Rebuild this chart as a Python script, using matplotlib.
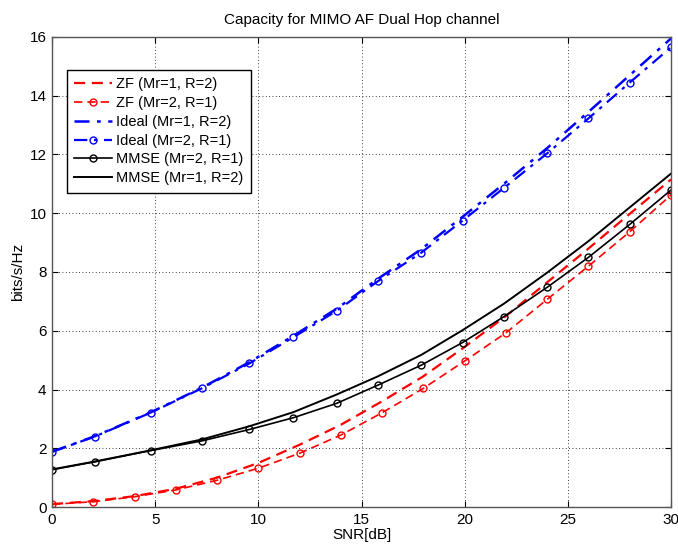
import matplotlib
matplotlib.use('Agg')
import matplotlib.pyplot as plt

plt.rcParams.update({
    'font.family': ['Liberation Sans', 'DejaVu Sans'],
    'font.size': 10.5,
    'figure.facecolor': 'white',
})

snr_zf = [0, 2, 4, 6, 8, 10, 12, 14, 16, 18, 20, 22, 24, 26, 28, 30]
zf_12 = [0.10, 0.20, 0.37, 0.62, 1.00, 1.50, 2.12, 2.80, 3.60, 4.45, 5.45, 6.50, 7.65, 8.80, 9.98, 11.15]
zf_21 = [0.09, 0.18, 0.35, 0.58, 0.91, 1.32, 1.83, 2.45, 3.21, 4.04, 4.97, 5.93, 7.07, 8.20, 9.37, 10.62]

snr_b = [0, 2.08, 4.78, 7.26, 9.57, 11.7, 13.8, 15.8, 17.9, 19.9, 21.9, 24, 26, 28, 30]
ideal_12 = [1.88, 2.41, 3.22, 4.06, 4.93, 5.83, 6.75, 7.77, 8.78, 9.88, 11.00, 12.22, 13.45, 14.70, 15.95]
ideal_21 = [1.88, 2.40, 3.21, 4.04, 4.89, 5.78, 6.68, 7.69, 8.66, 9.75, 10.86, 12.04, 13.23, 14.45, 15.65]
mmse_21 = [1.27, 1.54, 1.92, 2.25, 2.64, 3.04, 3.53, 4.15, 4.83, 5.60, 6.48, 7.48, 8.50, 9.62, 10.79]
mmse_12 = [1.28, 1.55, 1.93, 2.30, 2.75, 3.23, 3.83, 4.45, 5.18, 6.02, 6.92, 7.98, 9.05, 10.20, 11.35]

fig = plt.figure(figsize=(6.78, 5.48), dpi=100)
ax = fig.add_axes([0.0767, 0.0748, 0.913, 0.8577])

mk = dict(marker='o', markersize=5, markerfacecolor='none', markeredgewidth=1.0)
ax.plot(snr_zf, zf_12, color='red', ls=(0, (5, 3)), lw=1.6, label='ZF (Mr=1, R=2)')
ax.plot(snr_zf, zf_21, color='red', ls=(0, (5, 3)), lw=1.2, label='ZF (Mr=2, R=1)', **mk)
ax.plot(snr_b, ideal_12, color='blue', ls=(0, (6, 3, 1.5, 3)), lw=1.8, label='Ideal (Mr=1, R=2)')
ax.plot(snr_b, ideal_21, color='blue', ls=(0, (6, 3, 1.5, 3)), lw=1.6, label='Ideal (Mr=2, R=1)', **mk)
ax.plot(snr_b, mmse_21, color='black', ls='-', lw=1.2, label='MMSE (Mr=2, R=1)', **mk)
ax.plot(snr_b, mmse_12, color='black', ls='-', lw=1.4, label='MMSE (Mr=1, R=2)')

ax.set_xlim(0, 30)
ax.set_ylim(0, 16)
ax.set_xticks(range(0, 31, 5))
ax.set_yticks(range(0, 17, 2))
ax.grid(True, color='black', ls=(0, (1, 3)), lw=0.6)
ax.tick_params(direction='in', top=True, right=True, length=4, colors='black', pad=4,
               labelsize=11)
for s in ax.spines.values():
    s.set_color('#555555')
    s.set_linewidth(1.0)

ax.set_title('Capacity for MIMO AF Dual Hop channel', fontsize=11, pad=9)
ax.set_xlabel('SNR[dB]', fontsize=11, labelpad=1)
ax.set_ylabel('bits/s/Hz', fontsize=11, labelpad=3)

leg = ax.legend(loc='upper left', bbox_to_anchor=(0.024, 0.93), fancybox=False,
                edgecolor='black', framealpha=1, handlelength=2.6, handletextpad=0.3,
                borderaxespad=0, labelspacing=0.33, borderpad=0.5, fontsize=10.5)
leg.get_frame().set_linewidth(1.0)

fig.savefig('out.png', dpi=100)
